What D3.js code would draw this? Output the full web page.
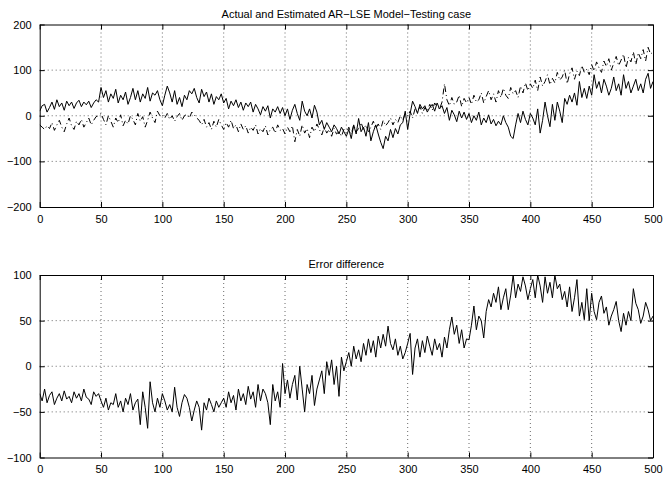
<!DOCTYPE html>
<html>
<head>
<meta charset="utf-8">
<script src="https://cdn.jsdelivr.net/npm/d3@7"></script>
<style>
body { margin: 0; background: #fff; }
text { font-family: "Liberation Sans", Arial, sans-serif; fill: #000; }
.grid line { stroke: #444; stroke-dasharray: 1,3; stroke-width: 0.8; }
</style>
</head>
<body>
<div id="chart"></div>
<script>
// sample index step (values read every 2 samples)
var step = 2;

// top plot: actual output (solid)
var actual = [
  10, 22, 25, 8, 18, 30, 14, 35, 20, 28, 12, 32, 22, 30, 16, 28, 34, 20, 30, 24, 32, 18, 28, 35, 30,
  62, 40, 55, 30, 48, 38, 58, 28, 45, 35, 52, 25, 40, 60, 35, 55, 30, 48, 38, 62, 32, 50, 45, 55, 35,
  22, 45, 65, 50, 30, 55, 25, 40, 20, 45, 35, 55, 48, 60, 40, 28, 58, 42, 52, 30, 48, 25, 42, 35, 48,
  28, 38, 15, 32, 22, 35, 18, 30, 12, 28, 20, 30, 8, 25, 15, 2, 20, 10, 22, -5, 15, 8, 20, 5, 18,
  0, 15, -8, 12, 25, 5, -10, 32, 10, 0, 15, -5, 23, 8, -20, -10, -30, -15, -25, -35, -20, -28, -40, -25, -35,
  -45, -30, -50, -20, -40, -6, -35, -25, -45, -15, -55, -35, -20, -40, -58, -72, -45, -55, -30, -48, -28, -40, -20, -15, 10,
  -30, 5, 32, 20, 5, 25, 15, 22, 8, 18, 25, 10, 28, 15, 22, 5, 18, -10, 12, 2, -13, 10, -5, 8, -8,
  5, -15, 0, -10, 8, -20, -5, -15, 2, -18, -8, -22, -12, -20, 0, -15, -25, -45, -50, -20, 5, -15, 10, -8, -20,
  5, -5, -20, 15, -38, -10, 30, 0, -24, 25, -10, 30, 10, -15, 38, 25, 45, 30, 50, 23, 75, 40, 60, 38, 65,
  45, 90, 60, 75, 50, 80, 65, 45, 60, 85, 55, 70, 45, 90, 60, 75, 50, 65, 80, 55, 70, 50, 80, 93, 60,
  75
];

// top plot: estimated output (dash-dot)
var estimated = [
  -20, -25, -30, -22, -28, -15, -32, -20, -10, -25, -35, -18, -5, -22, -30, -12, -20, -8, -25, -15, -5, -20, -10, -2, 0,
  5, -8, -20, 0, -12, -25, -5, -15, 2, -22, -10, -18, 0, -8, -20, 5, -12, -2, -25, -10, 8, -5, -15, 10, 0,
  2, -5, 5, -8, 0, -12, -2, 5, -10, 0, 3, -5, 8, 2, -5, -10, -20, -8, -25, -15, -30, -12, -25, -8, -20,
  -30, -15, -25, -10, -28, -20, -35, -18, -30, -22, -38, -25, -32, -20, -40, -28, -35, -22, -42, -30, -25, -38, -20, -32, -28,
  -40, -25, -35, -22, -57, -30, -45, -20, -38, -28, -48, -25, -35, -18, -30, -42, -25, -38, -30, -45, -28, -40, -35, -45, -30,
  -38, -25, -40, -20, -35, -28, -15, -30, -20, -35, -25, -12, -28, -18, -30, -10, -22, -15, -5, -20, -8, -15, 0, -10, 5,
  0, 10, -5, 15, 8, 20, 5, 18, 10, 25, 12, 28, 20, 15, 30, 70, 35, 22, 40, 25, 30, 45, 20, 38, 28,
  40, 25, 45, 30, 35, 50, 28, 42, 55, 35, 48, 30, 55, 40, 60, 45, 38, 62, 48, 55, 40, 65, 50, 72, 55,
  70, 60, 78, 55, 85, 65, 75, 90, 68, 82, 72, 95, 78, 85, 100, 70, 92, 105, 80, 98, 88, 110, 95, 102, 90,
  112, 98, 118, 105, 95, 120, 108, 125, 100, 115, 130, 110, 122, 135, 105, 128, 118, 140, 112, 138, 125, 145, 120, 150, 135,
  140
];

// bottom plot: error difference
var errorDiff = [
  -30, -38, -25, -40, -32, -28, -42, -35, -30, -38, -27, -36, -33, -40, -28, -35, -30, -38, -25, -34, -36, -42, -28, -33, -30,
  -38, -45, -35, -48, -40, -42, -30, -45, -38, -50, -35, -42, -30, -48, -40, -36, -64, -28, -45, -68, -17, -40, -50, -35, -45,
  -30, -38, -48, -42, -50, -23, -45, -55, -40, -31, -35, -45, -60, -48, -38, -45, -70, -40, -48, -35, -42, -50, -38, -45, -40,
  -35, -45, -28, -40, -32, -48, -25, -38, -30, -42, -22, -36, -28, -45, -20, -38, -25, -30, -40, -64, -20, -38, -28, -45, 3,
  -30, -15, -35, -20, -10, -37, 0, -25, -50, -20, -30, -10, -43, -25, -15, -5, -30, 5, -10, 7, -20, 0, -33, 10, -5,
  5, 15, 0, 22, 8, 18, 5, 25, 12, 30, 15, 28, 10, 33, 20, 35, 22, 44, 25, 18, 30, 12, 22, 8, 15,
  25, 36, -9, 20, 30, 10, 28, 15, 33, 22, 12, 30, 18, 25, 10, 32, 20, 40, 54, 35, 45, 25, 40, 20, 30,
  29, 45, 66, 40, 55, 50, 31, 60, 73, 65, 80, 70, 87, 62, 75, 85, 62, 78, 100, 75, 90, 82, 98, 88, 73,
  85, 95, 75, 100, 88, 70, 98, 80, 92, 75, 100, 85, 90, 73, 82, 65, 87, 60, 75, 95, 55, 70, 51, 85, 50,
  80, 60, 51, 70, 77, 58, 65, 45, 55, 62, 71, 50, 38, 58, 45, 60, 50, 85, 69, 62, 47, 55, 70, 62, 50,
  55
];

var xTicks = [0, 50, 100, 150, 200, 250, 300, 350, 400, 450, 500];
var yTicksTop = [-200, -100, 0, 100, 200];
var yTicksBottom = [-100, -50, 0, 50, 100];

var W = 663, H = 477;
var left = 39.7, right = 653;

var svg = d3.select("#chart").append("svg")
  .attr("width", W)
  .attr("height", H);

var x = d3.scaleLinear().domain([0, 500]).range([left, right]);

function drawPanel(top, bottom, yDomain, yTicks, title, series, id) {
  var y = d3.scaleLinear().domain(yDomain).range([bottom, top]);
  var g = svg.append("g");

  // clip so lines stay inside the box
  svg.append("clipPath").attr("id", id)
    .append("rect")
    .attr("x", left).attr("y", top)
    .attr("width", right - left).attr("height", bottom - top);

  // grid
  var grid = g.append("g").attr("class", "grid");
  grid.selectAll(".gx")
    .data(xTicks.slice(1, -1))
    .enter().append("line")
    .attr("x1", function(d) { return x(d); })
    .attr("x2", function(d) { return x(d); })
    .attr("y1", top).attr("y2", bottom);
  grid.selectAll(".gy")
    .data(yTicks.slice(1, -1))
    .enter().append("line")
    .attr("y1", function(d) { return y(d); })
    .attr("y2", function(d) { return y(d); })
    .attr("x1", left).attr("x2", right);

  // data lines
  var line = d3.line()
    .x(function(d, i) { return x(i * step); })
    .y(function(d) { return y(d); });

  series.forEach(function(s) {
    g.append("path")
      .datum(s.values)
      .attr("clip-path", "url(#" + id + ")")
      .attr("fill", "none")
      .attr("stroke", "#000")
      .attr("stroke-width", 1)
      .attr("stroke-dasharray", s.dash)
      .attr("d", line);
  });

  // box with inward ticks on all sides
  var xAxisB = d3.axisBottom(x).tickValues(xTicks).tickSizeInner(-5).tickSizeOuter(0).tickPadding(8);
  var xAxisT = d3.axisTop(x).tickValues(xTicks).tickSizeInner(-5).tickSizeOuter(0).tickFormat("");
  var yAxisL = d3.axisLeft(y).tickValues(yTicks).tickSizeInner(-5).tickSizeOuter(0).tickPadding(8);
  var yAxisR = d3.axisRight(y).tickValues(yTicks).tickSizeInner(-5).tickSizeOuter(0).tickFormat("");

  var axes = [
    g.append("g").attr("transform", "translate(0," + bottom + ")").call(xAxisB),
    g.append("g").attr("transform", "translate(0," + top + ")").call(xAxisT),
    g.append("g").attr("transform", "translate(" + left + ",0)").call(yAxisL),
    g.append("g").attr("transform", "translate(" + right + ",0)").call(yAxisR)
  ];
  axes.forEach(function(a) {
    a.selectAll("path").attr("stroke", "#000").attr("stroke-width", 1);
    a.selectAll("line").attr("stroke", "#000");
    a.selectAll("text")
      .attr("font-size", 11)
      .attr("fill", "#000")
      .style("font-family", "Liberation Sans, Arial, sans-serif");
  });

  g.append("text")
    .attr("x", (left + right) / 2)
    .attr("y", top - 7)
    .attr("text-anchor", "middle")
    .attr("font-size", 11)
    .text(title);
}

drawPanel(24.5, 207, [-200, 200], yTicksTop,
  "Actual and Estimated AR\u2212LSE Model\u2212Testing case",
  [{values: actual, dash: null}, {values: estimated, dash: "6,3,1,3"}], "clipTop");

drawPanel(275, 457.5, [-100, 100], yTicksBottom,
  "Error difference",
  [{values: errorDiff, dash: null}], "clipBottom");
</script>
</body>
</html>
